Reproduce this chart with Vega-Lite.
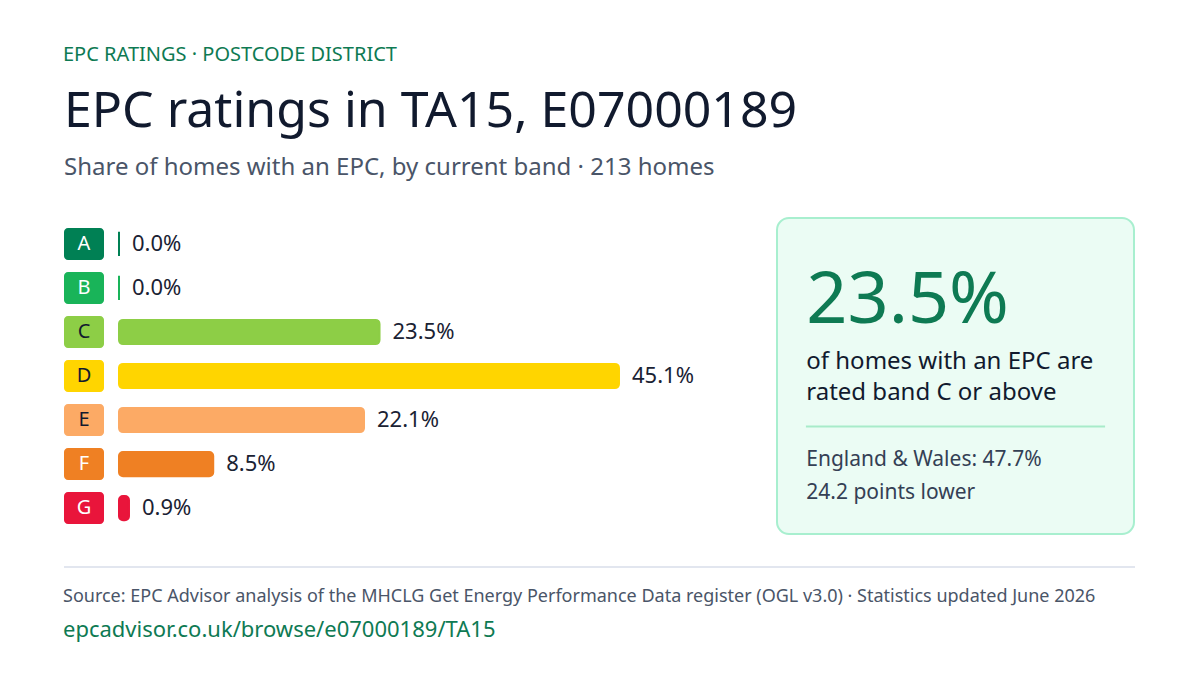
{
  "$schema": "https://vega.github.io/schema/vega-lite/v6.json",
  "background": "white",
  "padding": {"left": 63, "top": 45, "right": 0, "bottom": 24},
  "config": {
    "font": "Noto Sans",
    "view": {"stroke": null},
    "concat": {"spacing": 14}
  },
  "datasets": {
    "bands": [
      {"band": "A", "share": 0.0},
      {"band": "B", "share": 0.0},
      {"band": "C", "share": 0.235},
      {"band": "D", "share": 0.451},
      {"band": "E", "share": 0.221},
      {"band": "F", "share": 0.085},
      {"band": "G", "share": 0.009}
    ],
    "callout": [
      {
        "share_c_or_above": 0.235,
        "caption": "of homes with an EPC are\nrated band C or above",
        "comparison": "England & Wales: 47.7%\n24.2 points lower"
      }
    ],
    "footer": [{"element": "divider"}]
  },
  "title": {
    "text": "EPC RATINGS · POSTCODE DISTRICT",
    "anchor": "start",
    "font": "Noto Sans",
    "fontSize": 20,
    "fontWeight": "normal",
    "color": "#0e7a53",
    "offset": 22
  },
  "spacing": 31,
  "vconcat": [
    {
      "title": {
        "text": "EPC ratings in TA15, E07000189",
        "subtitle": "Share of homes with an EPC, by current band · 213 homes",
        "anchor": "start",
        "font": "Noto Sans",
        "fontSize": 50,
        "fontWeight": "normal",
        "color": "#111a2e",
        "subtitleFont": "Noto Sans",
        "subtitleFontSize": 24,
        "subtitleColor": "#4a5568",
        "subtitlePadding": 19,
        "offset": 37
      },
      "spacing": 14,
      "hconcat": [
        {
          "width": 40,
          "height": 316,
          "data": {"name": "bands"},
          "encoding": {
            "y": {"field": "band", "type": "nominal", "axis": null, "scale": {"paddingInner": 0, "paddingOuter": 0.09}}
          },
          "layer": [
            {
              "mark": {"type": "bar", "height": {"band": 0.727}, "cornerRadius": 4},
              "encoding": {
                "x": {"datum": 0, "type": "quantitative", "scale": {"domain": [0, 1], "nice": false}, "axis": null},
                "x2": {"datum": 1},
                "fill": {
                  "field": "band", "type": "nominal", "legend": null,
                  "scale": {"domain": ["A", "B", "C", "D", "E", "F", "G"], "range": ["#008054", "#19b459", "#8dce46", "#ffd500", "#fcaa65", "#ef8023", "#e9153b"]}
                }
              }
            },
            {
              "mark": {"type": "text", "fontSize": 20, "align": "center", "baseline": "middle"},
              "encoding": {
                "x": {"datum": 0.5, "type": "quantitative"},
                "text": {"field": "band"},
                "color": {
                  "field": "band", "type": "nominal", "legend": null,
                  "scale": {"domain": ["A", "B", "C", "D", "E", "F", "G"], "range": ["#ffffff", "#ffffff", "#111a2e", "#111a2e", "#111a2e", "#ffffff", "#ffffff"]}
                }
              }
            }
          ],
          "resolve": {"scale": {"color": "independent", "fill": "independent"}}
        },
        {
          "width": 643,
          "height": 316,
          "data": {"name": "bands"},
          "encoding": {
            "y": {"field": "band", "type": "nominal", "axis": null, "scale": {"paddingInner": 0, "paddingOuter": 0.09}}
          },
          "layer": [
            {
              "mark": {"type": "bar", "height": {"band": 0.55}, "cornerRadius": 4, "strokeWidth": 2},
              "encoding": {
                "x": {"field": "share", "type": "quantitative", "stack": null, "axis": null, "scale": {"domain": [0, 0.58], "nice": false}},
                "fill": {
                  "field": "band", "type": "nominal", "legend": null,
                  "scale": {"domain": ["A", "B", "C", "D", "E", "F", "G"], "range": ["#008054", "#19b459", "#8dce46", "#ffd500", "#fcaa65", "#ef8023", "#e9153b"]}
                },
                "stroke": {
                  "field": "band", "type": "nominal", "legend": null,
                  "scale": {"domain": ["A", "B", "C", "D", "E", "F", "G"], "range": ["#008054", "#19b459", "#8dce46", "#ffd500", "#fcaa65", "#ef8023", "#e9153b"]}
                }
              }
            },
            {
              "mark": {"type": "text", "align": "left", "baseline": "middle", "dx": 13, "fontSize": 22, "color": "#1a2233"},
              "encoding": {
                "x": {"field": "share", "type": "quantitative"},
                "text": {"field": "share", "format": ".1%"}
              }
            }
          ]
        },
        {
          "width": 357,
          "height": 316,
          "view": {"fill": "#ebfcf4", "stroke": "#a8efcf", "strokeWidth": 2, "cornerRadius": 12},
          "data": {"name": "callout"},
          "encoding": {
            "x": {"datum": 0.082, "type": "quantitative", "scale": {"domain": [0, 1], "nice": false}, "axis": null}
          },
          "layer": [
            {
              "mark": {"type": "text", "align": "left", "baseline": "alphabetic", "fontSize": 72, "color": "#0e7a53"},
              "encoding": {
                "y": {"datum": 0.331, "type": "quantitative", "scale": {"domain": [0, 1], "reverse": true, "nice": false}, "axis": null},
                "text": {"field": "share_c_or_above", "format": ".1%"}
              }
            },
            {
              "mark": {"type": "text", "align": "left", "baseline": "alphabetic", "fontSize": 24, "lineHeight": 31, "lineBreak": "\n", "color": "#111a2e"},
              "encoding": {
                "y": {"datum": 0.479, "type": "quantitative"},
                "text": {"field": "caption"}
              }
            },
            {
              "mark": {"type": "rule", "color": "#a8ebc9", "strokeWidth": 2},
              "encoding": {
                "x": {"datum": 0.081, "type": "quantitative"},
                "x2": {"datum": 0.919},
                "y": {"datum": 0.66, "type": "quantitative"}
              }
            },
            {
              "mark": {"type": "text", "align": "left", "baseline": "alphabetic", "fontSize": 21, "lineHeight": 33, "lineBreak": "\n", "color": "#344054"},
              "encoding": {
                "y": {"datum": 0.785, "type": "quantitative"},
                "text": {"field": "comparison"}
              }
            }
          ]
        }
      ]
    },
    {
      "width": 1071,
      "height": 1,
      "data": {"name": "footer"},
      "mark": {"type": "rule", "color": "#e2e6ef", "strokeWidth": 2},
      "encoding": {
        "y": {"datum": 1, "type": "quantitative", "scale": {"domain": [0, 1], "nice": false}, "axis": null}
      },
      "title": {
        "text": "Source: EPC Advisor analysis of the MHCLG Get Energy Performance Data register (OGL v3.0) · Statistics updated June 2026",
        "subtitle": "epcadvisor.co.uk/browse/e07000189/TA15",
        "orient": "bottom",
        "anchor": "start",
        "font": "Noto Sans",
        "fontSize": 18,
        "fontWeight": "normal",
        "color": "#4a5568",
        "subtitleFont": "Noto Sans",
        "subtitleFontSize": 22,
        "subtitleColor": "#0e7a53",
        "subtitlePadding": 14,
        "offset": 20
      }
    }
  ]
}
